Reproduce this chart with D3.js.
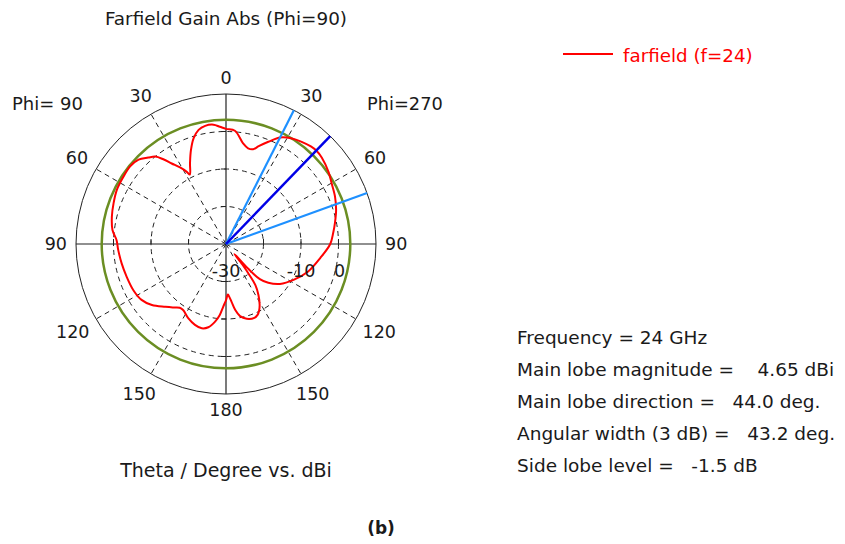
<!DOCTYPE html>
<html>
<head>
<meta charset="utf-8">
<script src="https://cdn.jsdelivr.net/npm/d3@7"></script>
<style>
  body { margin: 0; background: #fff; }
  svg text { font-family: "DejaVu Sans", Verdana, sans-serif; fill: #1a1a1a; white-space: pre; }
</style>
</head>
<body>
<div id="chart"></div>
<script>
// position around the plot, clockwise from top (right half = Phi 270, left half = Phi 90)
const thetaDeg = [0, 4.5, 9.5, 13, 16, 18.5, 22.5, 27, 32, 36.5, 41, 44, 48, 55, 60, 66.5, 73, 79, 84, 90,
  98.5, 108.5, 118, 126.5, 132.5, 136, 138, 139.8, 141.5, 143, 144.5, 147.5, 151, 153.5, 156, 159, 164.5,
  169, 172, 174.5, 177, 178, 180, 182.5, 185, 188, 192, 196, 201, 207, 213, 216, 220, 224, 230.5, 236.5,
  243.5, 252, 259.5, 267, 272, 277, 283.5, 290, 296.5, 303, 309, 314, 318, 321, 323.5, 326, 329, 331.5,
  332.5, 336, 339.5, 343, 346.5, 350, 354, 357];
const gainDbi = [0.7, 0.3, -2.7, -3.8, -3.7, -2.5, -0.5, 1.9, 3.2, 3.9, 4.5, 4.65, 4.4, 3.4, 2.5, 1.7, 0.7, -0.4, -1.25, -2.2,
  -4.6, -6.9, -9.6, -12.1, -14.7, -17, -21, -26.5, -23, -19.5, -16.5, -13.9, -11.5, -10.2, -9.3, -8.9, -9.3,
  -10.4, -12.2, -14.5, -16.2, -16.5, -15, -13.3, -11, -9.1, -7.3, -6.6, -6.9, -7.8, -9.0, -9.0, -7.9, -6.7, -4.4, -3.0,
  -2.4, -2.1, -1.7, -1.2, -0.8, 0.5, 1.3, 1.9, 2.5, 2.7, 2.9, 2.4, 1.0, 0.0, -1.9, -4.1, -6.2, -8.1,
  -9.1, -6.4, -3.3, -0.5, 1.3, 2.0, 2.0, 1.3];

const radialDomain = [-30, 10];
const radialGrid = [-20, -10, 0];
const radialLabels = [-30, -10, 0];
const angleTickPos = [0, 30, 60, 90, 120, 150, 180, 210, 240, 270, 300, 330];
const angleTickLabels = ["0", "30", "60", "90", "120", "150", "180", "150", "120", "90", "60", "30"];

const mainLobeDir = 44.0;
const mainLobeMag = 4.65;
const beamEdges = [26.9, 70.1];
const sideLobeLevel = -1.5;

const infoLines = [
  "Frequency = 24 GHz",
  "Main lobe magnitude =    4.65 dBi",
  "Main lobe direction =   44.0 deg.",
  "Angular width (3 dB) =   43.2 deg.",
  "Side lobe level =   -1.5 dB"
];

const width = 845, height = 544;
const cx = 226, cy = 244, R = 150;

const svg = d3.select("#chart").append("svg")
  .attr("width", width).attr("height", height);

const r = d3.scaleLinear().domain(radialDomain).range([0, R]);
const rad = d => d * Math.PI / 180;
const px = (a, rr) => rr * Math.sin(rad(a));
const py = (a, rr) => -rr * Math.cos(rad(a));

const g = svg.append("g").attr("transform", `translate(${cx},${cy})`);

// dashed grid circles
radialGrid.forEach(v => {
  g.append("circle").attr("r", r(v))
    .attr("fill", "none").attr("stroke", "#222").attr("stroke-width", 1)
    .attr("stroke-dasharray", "5,4");
});

// dashed spokes
angleTickPos.filter(a => a % 90 !== 0).forEach(a => {
  g.append("line")
    .attr("x1", 0).attr("y1", 0)
    .attr("x2", px(a, R)).attr("y2", py(a, R))
    .attr("stroke", "#222").attr("stroke-width", 1)
    .attr("stroke-dasharray", "5,4");
});

// outer circle + axes
g.append("circle").attr("r", R)
  .attr("fill", "none").attr("stroke", "#222").attr("stroke-width", 1);
g.append("line").attr("x1", -R).attr("x2", R).attr("y1", 0).attr("y2", 0)
  .attr("stroke", "#222").attr("stroke-width", 1.2);
g.append("line").attr("y1", -R).attr("y2", R).attr("x1", 0).attr("x2", 0)
  .attr("stroke", "#222").attr("stroke-width", 1.2);

// small ticks on the axes
radialGrid.forEach(v => {
  const d = r(v);
  [d, -d].forEach(x => {
    g.append("line").attr("x1", x).attr("x2", x).attr("y1", -5).attr("y2", 0)
      .attr("stroke", "#222");
  });
  [d, -d].forEach(y => {
    g.append("line").attr("x1", -5).attr("x2", 0).attr("y1", y).attr("y2", y)
      .attr("stroke", "#222");
  });
});

// side lobe level circle
g.append("circle").attr("r", r(mainLobeMag + sideLobeLevel))
  .attr("fill", "none").attr("stroke", "#6b8e23").attr("stroke-width", 2.5);

// gain curve
const pts = thetaDeg.map((t, i) => [rad(t), r(gainDbi[i])]);
const radial = d3.lineRadial().curve(d3.curveCatmullRomClosed.alpha(0.5));
g.append("path").attr("d", radial(pts))
  .attr("fill", "none").attr("stroke", "#ff0000").attr("stroke-width", 2);

// beam width lines
beamEdges.forEach(a => {
  g.append("line").attr("x1", 0).attr("y1", 0)
    .attr("x2", px(a, R)).attr("y2", py(a, R))
    .attr("stroke", "#1e90ff").attr("stroke-width", 2.2);
});
g.append("line").attr("x1", 0).attr("y1", 0)
  .attr("x2", px(mainLobeDir, R)).attr("y2", py(mainLobeDir, R))
  .attr("stroke", "#0000e6").attr("stroke-width", 2.5);

// angle labels, pushed out by half the text box
angleTickPos.forEach((a, i) => {
  const t = g.append("text")
    .attr("text-anchor", "middle").attr("dominant-baseline", "central")
    .style("font-size", "17.5px")
    .text(angleTickLabels[i]);
  const w = t.node().getComputedTextLength();
  const lr = 159 + Math.abs(Math.sin(rad(a))) * w / 2 + Math.abs(Math.cos(rad(a))) * 7;
  t.attr("x", px(a, lr)).attr("y", py(a, lr));
});

// radial labels
radialLabels.forEach(v => {
  g.append("text")
    .attr("x", r(v) + (v === 0 ? 1 : 0)).attr("y", 33)
    .attr("text-anchor", "middle")
    .style("font-size", "17.5px")
    .text(v);
});

// titles
svg.append("text").attr("x", cx).attr("y", 25).attr("text-anchor", "middle")
  .style("font-size", "18.4px").text("Farfield Gain Abs (Phi=90)");
svg.append("text").attr("x", 12).attr("y", 110)
  .style("font-size", "18px").text("Phi= 90");
svg.append("text").attr("x", 367).attr("y", 110)
  .style("font-size", "17.8px").text("Phi=270");
svg.append("text").attr("x", cx).attr("y", 477).attr("text-anchor", "middle")
  .style("font-size", "19px").text("Theta / Degree vs. dBi");
svg.append("text").attr("x", 381).attr("y", 534).attr("text-anchor", "middle")
  .style("font-size", "17px").style("font-weight", "bold").text("(b)");

// legend
svg.append("line").attr("x1", 563).attr("x2", 613).attr("y1", 54).attr("y2", 54)
  .attr("stroke", "#ff0000").attr("stroke-width", 2);
svg.append("text").attr("x", 623).attr("y", 62)
  .style("font-size", "18.3px").style("fill", "#ff0000").text("farfield (f=24)");

// info block
infoLines.forEach((s, i) => {
  svg.append("text").attr("x", 517).attr("y", 344 + i * 32)
    .style("font-size", "18.5px").text(s);
});
</script>
</body>
</html>
